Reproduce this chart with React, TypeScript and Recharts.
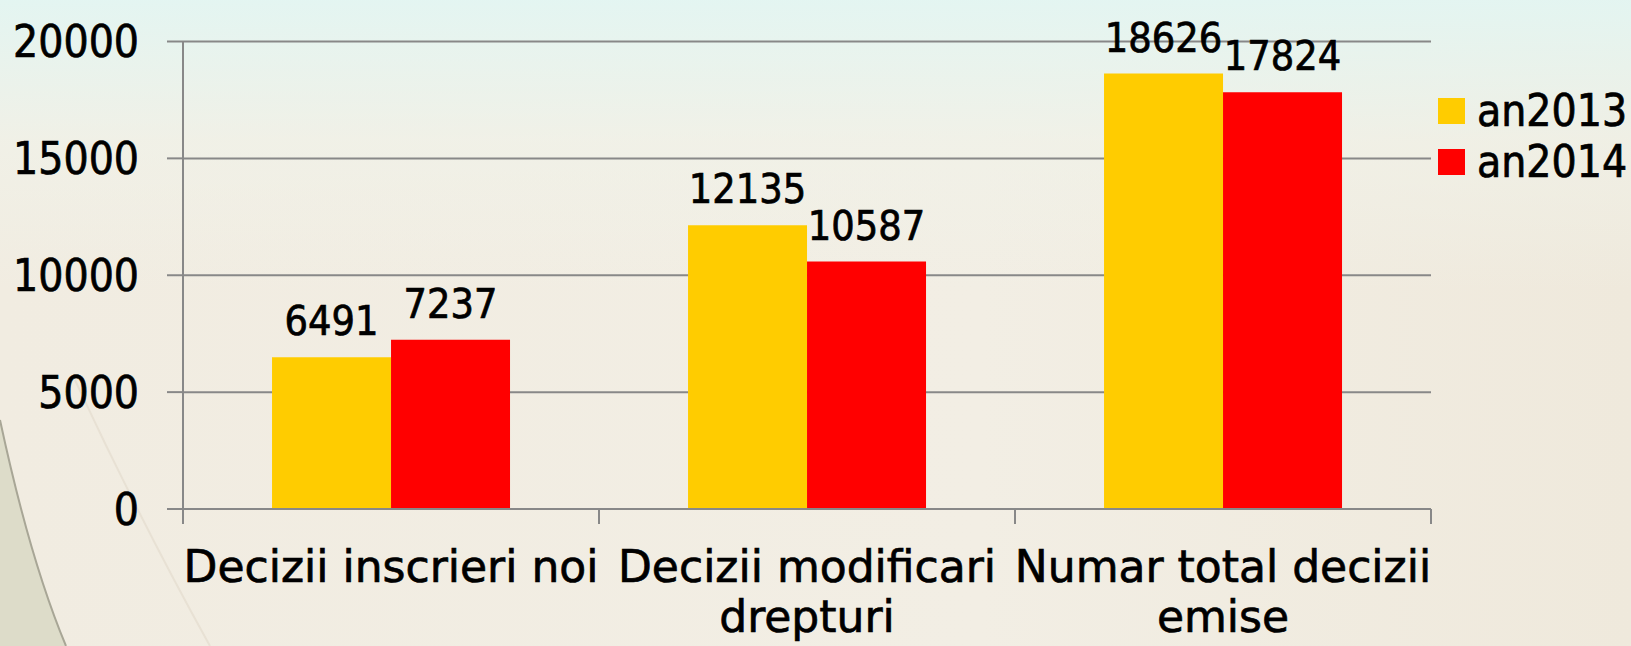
import React from "react";
import {
  BarChart,
  Bar,
  XAxis,
  YAxis,
  CartesianGrid,
  Legend,
  LabelList,
} from "recharts";

const categories = [
  "Decizii inscrieri noi",
  "Decizii modificari drepturi",
  "Numar total decizii emise",
];
const categoryLines: string[][] = [
  ["Decizii inscrieri noi"],
  ["Decizii modificari", "drepturi"],
  ["Numar total decizii", "emise"],
];
const an2013 = [6491, 12135, 18626];
const an2014 = [7237, 10587, 17824];
const seriesNames = ["an2013", "an2014"];
const seriesColors = ["#FFCC00", "#FF0000"];
const yTicks = [0, 5000, 10000, 15000, 20000];

const data = categories.map((c, i) => ({
  name: c,
  an2013: an2013[i],
  an2014: an2014[i],
}));

const FONT = "'DejaVu Sans Condensed', 'DejaVu Sans', sans-serif";
const FONT_WIDE = "'DejaVu Sans', sans-serif";
const FS = 44;
const TXT_STROKE = 0.7;
const AXIS_COLOR = "#888888";
const X_TICK_LEN = 15;

const CategoryTick = (props: any) => {
  const { x, y, payload } = props;
  const idx = categories.indexOf(payload.value);
  const lines = categoryLines[idx] || [String(payload.value)];
  const half = payload.offset || 0;
  const isLast = idx === categories.length - 1;
  return (
    <g>
      <line
        x1={x - half}
        x2={x - half}
        y1={y}
        y2={y + X_TICK_LEN}
        stroke={AXIS_COLOR}
        strokeWidth={2}
      />
      {isLast && (
        <line
          x1={x + half}
          x2={x + half}
          y1={y}
          y2={y + X_TICK_LEN}
          stroke={AXIS_COLOR}
          strokeWidth={2}
        />
      )}
      <text
        x={x}
        y={y}
        textAnchor="middle"
        fill="#000"
        stroke="#000"
        strokeWidth={TXT_STROKE}
        fontFamily={FONT_WIDE}
        fontSize={FS}
      >
        {lines.map((l, i) => (
          <tspan key={i} x={x} dy={i === 0 ? 73 : 50}>
            {l}
          </tspan>
        ))}
      </text>
    </g>
  );
};

const LegendContent = (props: any) => {
  const { payload } = props;
  return (
    <div
      style={{
        fontFamily: FONT,
        fontSize: FS,
        color: "#000",
        WebkitTextStroke: `${TXT_STROKE}px #000`,
      }}
    >
      {(payload || []).map((p: any, i: number) => (
        <div
          key={i}
          style={{
            display: "flex",
            alignItems: "center",
            height: 51,
            whiteSpace: "nowrap",
          }}
        >
          <div
            style={{
              width: 27,
              height: 26,
              background: p.color,
              marginRight: 12,
            }}
          />
          <span style={{ lineHeight: "51px" }}>{p.value}</span>
        </div>
      ))}
    </div>
  );
};

export default function App() {
  return (
    <div
      style={{
        position: "absolute",
        left: 0,
        top: 0,
        width: 1631,
        height: 646,
        overflow: "hidden",
        background:
          "linear-gradient(180deg, rgba(226,246,243,0.9) 0%, rgba(240,243,234,0.6) 22%, rgba(240,236,226,0) 45%), linear-gradient(90deg, #f1ece1 0%, #f2eee4 60%, #efe9dc 100%)",
      }}
    >
      <svg
        width={1631}
        height={646}
        style={{ position: "absolute", left: 0, top: 0 }}
      >
        <path d="M0,420 Q30,560 66,646 L0,646 Z" fill="#dddcc9" />
        <path
          d="M0,420 Q30,560 66,646"
          fill="none"
          stroke="#a8a696"
          strokeWidth={2}
        />
        <path
          d="M75,380 Q140,520 210,646"
          fill="none"
          stroke="#e8e1d4"
          strokeWidth={2}
        />
      </svg>
      <div style={{ position: "absolute", left: 0, top: 0 }}>
        <BarChart
          width={1631}
          height={646}
          data={data}
          margin={{ top: 41.5, right: 200, bottom: 136, left: 0 }}
          barCategoryGap="21.4%"
          barGap={0}
        >
          <CartesianGrid
            horizontal={true}
            vertical={false}
            stroke={AXIS_COLOR}
            strokeWidth={2}
          />
          <XAxis
            dataKey="name"
            height={1}
            axisLine={{ stroke: AXIS_COLOR, strokeWidth: 2 }}
            tickLine={false}
            tick={<CategoryTick />}
            tickSize={0}
            tickMargin={0}
            interval={0}
          />
          <YAxis
            width={183}
            domain={[0, 20000]}
            ticks={yTicks}
            interval={0}
            axisLine={{ stroke: AXIS_COLOR, strokeWidth: 2 }}
            tickLine={{ stroke: AXIS_COLOR, strokeWidth: 2 }}
            tickSize={16}
            tickMargin={28}
            tick={{
              fill: "#000",
              stroke: "#000",
              strokeWidth: TXT_STROKE,
              fontFamily: FONT,
              fontSize: FS,
            }}
          />
          <Legend
            layout="vertical"
            align="center"
            verticalAlign="middle"
            wrapperStyle={{ left: 1438, top: 85, width: 193 }}
            content={<LegendContent />}
          />
          <Bar
            dataKey="an2013"
            name={seriesNames[0]}
            fill={seriesColors[0]}
            isAnimationActive={false}
          >
            <LabelList
              dataKey="an2013"
              position="top"
              offset={22}
              fill="#000"
              stroke="#000"
              strokeWidth={TXT_STROKE}
              fontFamily={FONT}
              fontSize={41}
            />
          </Bar>
          <Bar
            dataKey="an2014"
            name={seriesNames[1]}
            fill={seriesColors[1]}
            isAnimationActive={false}
          >
            <LabelList
              dataKey="an2014"
              position="top"
              offset={22}
              fill="#000"
              stroke="#000"
              strokeWidth={TXT_STROKE}
              fontFamily={FONT}
              fontSize={41}
            />
          </Bar>
        </BarChart>
      </div>
    </div>
  );
}
